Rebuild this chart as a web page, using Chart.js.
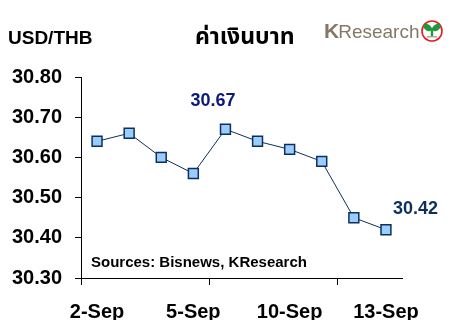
<!DOCTYPE html>
<html>
<head>
<meta charset="utf-8">
<script src="https://cdn.jsdelivr.net/npm/chart.js@4"></script>
<style>
  html, body { margin: 0; padding: 0; background: #fff; }
  canvas { display: block; }
</style>
</head>
<body>
<canvas id="fxChart" width="468" height="336"></canvas>
<script>
// datos del gráfico
const dates = ['2-Sep', '3-Sep', '4-Sep', '5-Sep', '6-Sep', '9-Sep', '10-Sep', '11-Sep', '12-Sep', '13-Sep'];
const usdThb = [30.64, 30.66, 30.60, 30.56, 30.67, 30.64, 30.62, 30.59, 30.45, 30.42];
const highlighted = [4, 9]; // puntos con etiqueta de valor
const yMin = 30.30;
const yMax = 30.80;
const yStep = 0.10;

const FONT = '"Liberation Sans", Arial, sans-serif';

// textos fuera del área del gráfico
const overlayText = {
    id: 'overlayText',
    afterDraw(chart) {
        const ctx = chart.ctx;
        const area = chart.chartArea;
        const xs = chart.scales.x;
        const ys = chart.scales.y;
        ctx.save();

        // títulos
        ctx.fillStyle = '#000';
        ctx.textBaseline = 'alphabetic';
        ctx.textAlign = 'left';
        ctx.font = 'bold 19px ' + FONT;
        ctx.fillText('USD/THB', 8, 44);
        ctx.font = 'bold 23px "Noto Sans Thai", "Noto Sans", "DejaVu Sans", sans-serif';
        ctx.fillText('ค่าเงินบาท', 195, 44);

        // logo KResearch
        ctx.fillStyle = '#857869';
        ctx.font = 'bold 21px ' + FONT;
        ctx.fillText('K', 324, 38);
        const kw = ctx.measureText('K').width;
        ctx.font = '19px ' + FONT;
        ctx.fillText('Research', 324 + kw - 1, 38);
        ctx.beginPath();
        ctx.arc(432, 31, 10, 0, Math.PI * 2);
        ctx.fillStyle = '#fff';
        ctx.fill();
        ctx.lineWidth = 1.6;
        ctx.strokeStyle = '#e02020';
        ctx.stroke();
        ctx.fillStyle = '#1e9a3a';
        ctx.beginPath();
        ctx.ellipse(427.5, 27.5, 4.5, 3, Math.PI / 5, 0, Math.PI * 2);
        ctx.fill();
        ctx.beginPath();
        ctx.ellipse(436.5, 27.5, 4.5, 3, -Math.PI / 5, 0, Math.PI * 2);
        ctx.fill();
        ctx.fillRect(430.8, 28, 2.4, 8);
        ctx.fillStyle = '#b0a89e';
        ctx.fillRect(427, 36, 10, 1.5);

        // etiquetas de valor
        ctx.font = 'bold 18px ' + FONT;
        const px4 = xs.getPixelForValue(highlighted[0]);
        const py4 = ys.getPixelForValue(usdThb[highlighted[0]]);
        ctx.fillStyle = '#0b1a78';
        ctx.textAlign = 'center';
        ctx.fillText(usdThb[highlighted[0]].toFixed(2), px4 - 12.5, py4 - 23);
        const px9 = xs.getPixelForValue(highlighted[1]);
        const py9 = ys.getPixelForValue(usdThb[highlighted[1]]);
        ctx.fillStyle = '#0d2f5c';
        ctx.textAlign = 'left';
        ctx.fillText(usdThb[highlighted[1]].toFixed(2), px9 + 7, py9 - 16);

        // fuente
        ctx.fillStyle = '#000';
        ctx.font = 'bold 15px ' + FONT;
        ctx.fillText('Sources: Bisnews, KResearch', area.left + 10, area.bottom - 11);

        ctx.restore();
    }
};

const ctx = document.getElementById('fxChart').getContext('2d');
const fxChart = new Chart(ctx, {
    type: 'line',
    data: {
        labels: dates,
        datasets: [{
            data: usdThb,
            borderColor: '#0d2f5c',
            borderWidth: 1,
            fill: false,
            tension: 0,
            pointStyle: 'rect',
            pointRadius: 7,
            pointBackgroundColor: '#99ccff',
            pointBorderColor: '#0d2f5c',
            pointBorderWidth: 1.5
        }]
    },
    options: {
        responsive: false,
        animation: false,
        layout: {
            padding: { top: 77, right: 66, bottom: 16, left: 0 }
        },
        plugins: {
            legend: { display: false },
            tooltip: { enabled: false }
        },
        scales: {
            x: {
                offset: true,
                afterFit: s => { s.height = 42; },
                grid: {
                    offset: true,
                    drawOnChartArea: false,
                    tickLength: 7,
                    tickWidth: 1,
                    tickColor: c => (c.index !== undefined && c.index % 4 === 0) ? '#000' : 'rgba(0,0,0,0)'
                },
                border: { color: '#000', width: 1 },
                ticks: {
                    autoSkip: false,
                    maxRotation: 0,
                    padding: 15,
                    color: '#000',
                    font: { family: FONT, size: 20, weight: 'bold' },
                    callback: (v, i) => (i % 3 === 0 ? dates[i] : '')
                }
            },
            y: {
                min: yMin,
                max: yMax,
                afterFit: s => { s.width = 81; },
                grid: {
                    drawOnChartArea: false,
                    tickLength: 6,
                    tickColor: '#000'
                },
                border: { color: '#000', width: 1 },
                ticks: {
                    stepSize: yStep,
                    padding: 13,
                    color: '#000',
                    font: { family: FONT, size: 20, weight: 'bold' },
                    callback: v => v.toFixed(2)
                }
            }
        }
    },
    plugins: [overlayText]
});
</script>
</body>
</html>
